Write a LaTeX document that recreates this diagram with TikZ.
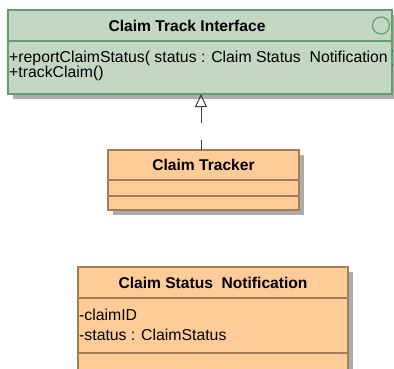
\documentclass[tikz,border=0pt]{standalone}
\usepackage{fontspec}
\setmainfont{Liberation Sans}
\usetikzlibrary{positioning,arrows.meta,shadows}

\definecolor{ifacefill}{RGB}{195,215,195}
\definecolor{ifaceline}{RGB}{95,160,105}
\definecolor{classfill}{RGB}{255,204,153}
\definecolor{classline}{RGB}{165,125,85}
\definecolor{shadowgray}{RGB}{172,172,172}
\definecolor{linkgray}{RGB}{64,64,64}

\begin{document}
\begin{tikzpicture}[x=1pt, y=-1pt,
        compartment/.style={rectangle, inner sep=0pt, outer sep=0pt, anchor=north west, line width=1.2pt,
            drop shadow={shadow xshift=5pt, shadow yshift=-5pt, fill=shadowgray, opacity=1}},
        ifacebox/.style={compartment, draw=ifaceline, fill=ifacefill},
        classbox/.style={compartment, draw=classline, fill=classfill},
        title/.style={font=\bfseries\fontsize{15.6}{18}\selectfont},
        member/.style={font=\fontsize{15.8}{18}\selectfont, inner sep=0pt, anchor=base west},
        realize/.style={draw=linkgray, line width=1pt, dash pattern=on 10pt off 17pt on 16pt off 30pt, -{Triangle[open, length=13pt, width=12pt]}}
    ]
    \useasboundingbox (0,0) rectangle (394,368);

    % Claim Track Interface
    \node[ifacebox, title, minimum width=384pt, minimum height=31pt] (iface) at (8,10) {Claim Track Interface\hspace*{26pt}};
    \node[circle, draw=ifaceline, line width=1.1pt, minimum size=17pt, inner sep=0pt] (iface_icon) at (381,25.5) {};
    \node[ifacebox, minimum width=384pt, minimum height=53pt] (iface_ops) at (iface.south west) {};
    \begin{scope}
        \clip (iface_ops.north west) rectangle (iface_ops.south east);
        \node[member] (iface_op1) at ([shift={(1pt,-21.7pt)}]iface_ops.north west) {+reportClaimStatus( status : Claim Status\ \ Notification )};
        \node[member] (iface_op2) at ([yshift=-15pt]iface_op1.base west) {+trackClaim()};
    \end{scope}

    % Claim Tracker
    \node[classbox, title, minimum width=191pt, minimum height=30pt] (tracker) at (108,150) {Claim Tracker};
    \node[classbox, minimum width=191pt, minimum height=16pt] (tracker_attrs) at (tracker.south west) {};
    \node[classbox, minimum width=191pt, minimum height=14pt] (tracker_ops) at (tracker_attrs.south west) {};

    % Claim Status Notification
    \node[classbox, title, minimum width=270pt, minimum height=31pt] (notif) at (78,267) {Claim Status\ \ Notification};
    \node[classbox, minimum width=270pt, minimum height=55pt] (notif_attrs) at (notif.south west) {};
    \node[member] (notif_attr1) at ([shift={(1pt,-22pt)}]notif_attrs.north west) {-claimID};
    \node[member] (notif_attr2) at ([yshift=-20pt]notif_attr1.base west) {-status : ClaimStatus};
    \node[classbox, minimum width=270pt, minimum height=20pt] (notif_ops) at (notif_attrs.south west) {};

    % realization
    \draw[realize] ([xshift=-2.5pt]tracker.north) -- ([xshift=-2.5pt]tracker.north |- iface_ops.south);
\end{tikzpicture}
\end{document}
